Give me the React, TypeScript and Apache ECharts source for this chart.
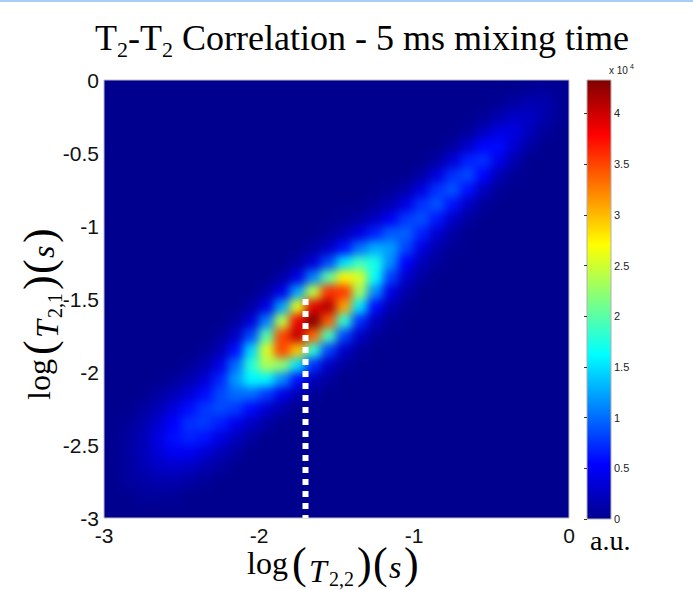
import React, { useEffect, useRef } from 'react';
import * as echarts from 'echarts';

// ---------------- data ----------------
// bin centres (log10 of T, seconds), 0.1 wide
const xBins = [-2.95, -2.85, -2.75, -2.65, -2.55, -2.45, -2.35, -2.25, -2.15, -2.05, -1.95, -1.85, -1.75, -1.65, -1.55, -1.45, -1.35, -1.25, -1.15, -1.05, -0.95, -0.85, -0.75, -0.65, -0.55, -0.45, -0.35, -0.25, -0.15, -0.05];
const yBins = [-2.95, -2.85, -2.75, -2.65, -2.55, -2.45, -2.35, -2.25, -2.15, -2.05, -1.95, -1.85, -1.75, -1.65, -1.55, -1.45, -1.35, -1.25, -1.15, -1.05, -0.95, -0.85, -0.75, -0.65, -0.55, -0.45, -0.35, -0.25, -0.15, -0.05];

// intensity (x 10^4 a.u.) read row by row, bottom row first; rowStart = first x-bin index of each row
const rowStart = [0, 2, 1, 1, 1, 1, 1, 2, 3, 4, 5, 6, 7, 8, 9, 10, 11, 12, 13, 14, 15, 17, 18, 20, 21, 22, 23, 24, 25, 27];
const rowValues: number[][] = [
  [],
  [0.06, 0.06, 0.05],
  [0.07, 0.11, 0.14, 0.14, 0.10, 0.05],
  [0.08, 0.17, 0.26, 0.29, 0.25, 0.16, 0.08],
  [0.08, 0.20, 0.36, 0.48, 0.48, 0.35, 0.20, 0.09],
  [0.07, 0.19, 0.39, 0.59, 0.68, 0.61, 0.41, 0.22, 0.09],
  [0.05, 0.14, 0.32, 0.54, 0.74, 0.78, 0.66, 0.45, 0.25, 0.11],
  [0.08, 0.19, 0.38, 0.59, 0.77, 0.85, 0.78, 0.57, 0.32, 0.14],
  [0.09, 0.19, 0.35, 0.58, 0.84, 1.00, 1.00, 0.78, 0.44, 0.18, 0.06],
  [0.07, 0.16, 0.34, 0.69, 1.19, 1.60, 1.58, 1.13, 0.59, 0.22, 0.07],
  [0.05, 0.15, 0.42, 0.99, 1.78, 2.36, 2.23, 1.50, 0.73, 0.26, 0.07],
  [0.04, 0.18, 0.59, 1.45, 2.56, 3.50, 2.95, 1.80, 0.81, 0.27, 0.07],
  [0.06, 0.26, 0.84, 1.98, 3.50, 4.05, 3.35, 1.92, 0.81, 0.26, 0.06],
  [0.08, 0.35, 1.08, 2.42, 3.83, 4.33, 3.40, 1.81, 0.72, 0.22, 0.05],
  [0.10, 0.42, 1.23, 2.60, 3.90, 4.10, 3.10, 1.52, 0.58, 0.17, 0.04],
  [0.12, 0.44, 1.24, 2.45, 3.60, 3.55, 2.30, 1.14, 0.42, 0.12],
  [0.11, 0.42, 1.09, 2.03, 2.75, 2.55, 1.64, 0.80, 0.29, 0.09],
  [0.10, 0.35, 0.85, 1.50, 1.89, 1.72, 1.13, 0.54, 0.20, 0.06],
  [0.08, 0.26, 0.60, 1.02, 1.28, 1.21, 0.82, 0.39, 0.14, 0.04],
  [0.06, 0.18, 0.39, 0.68, 0.93, 0.95, 0.67, 0.32, 0.10],
  [0.04, 0.11, 0.26, 0.49, 0.78, 0.88, 0.63, 0.28, 0.08],
  [0.07, 0.18, 0.41, 0.75, 0.89, 0.61, 0.26, 0.07],
  [0.05, 0.14, 0.39, 0.75, 0.89, 0.60, 0.23, 0.05],
  [0.12, 0.37, 0.74, 0.85, 0.54, 0.19, 0.04],
  [0.11, 0.34, 0.67, 0.74, 0.44, 0.15],
  [0.09, 0.29, 0.56, 0.58, 0.32, 0.10],
  [0.07, 0.23, 0.40, 0.40, 0.21, 0.06],
  [0.05, 0.16, 0.27, 0.26, 0.13, 0.04],
  [0.03, 0.10, 0.17, 0.15, 0.04],
  [0.04, 0.05, 0.02],
];

const colorMin = 0;
const colorMax = 4.33;
const jetColors = ['#00008f', '#0000ff', '#0080ff', '#00ffff', '#80ff80', '#ffff00', '#ff8000', '#ff0000', '#800000'];
const axisMin = -3;
const axisMax = 0;
const xTickStep = 1;
const yTickStep = 0.5;
const colorbarTicks = [0, 0.5, 1, 1.5, 2, 2.5, 3, 3.5, 4];
const markerX = [-1.7, -1.7];
const markerY = [-1.5, -3];

// ---------------- layout ----------------
const W = 693;
const H = 590;
const PLOT = { left: 104, top: 80, width: 465, height: 438 };
const CBAR = { left: 587, top: 80, width: 24, height: 439 };
const PAD = 24;
const SERIF = '"Liberation Serif", "Times New Roman", Times, serif';
const SANS = '"Liberation Sans", Arial, Helvetica, sans-serif';

let measureCtx: CanvasRenderingContext2D | null = null;
function measure(text: string, size: number, italic = false) {
  if (!measureCtx) measureCtx = document.createElement('canvas').getContext('2d');
  if (!measureCtx) return text.length * size * 0.5;
  measureCtx.font = `${italic ? 'italic ' : ''}${size}px ${SERIF}`;
  return measureCtx.measureText(text).width;
}

function txt(text: string, x: number, baseline: number, size: number, opts: any = {}) {
  const family = opts.family || SERIF;
  const k = family === SERIF ? 0.34 : 0.35;
  return {
    type: 'text',
    x,
    y: baseline - k * size,
    silent: true,
    z: 20,
    style: {
      text,
      fontSize: size,
      fontFamily: family,
      fontStyle: opts.italic ? 'italic' : 'normal',
      fill: opts.fill || '#000',
      align: opts.align || 'left',
      verticalAlign: 'middle',
    },
  };
}

function axisTitle(sub: string) {
  return [
    txt('log', 0, 0, 32),
    txt('(', 45, 4, 44),
    txt('T', 62, 8, 32, { italic: true }),
    txt(sub, 82, 12, 20),
    txt(')', 110, 4, 44),
    txt('(', 126, 4, 44),
    txt('s', 142, 4, 32, { italic: true }),
    txt(')', 157, 4, 44),
  ];
}

function titleGroup() {
  const runs = [
    { t: 'T', s: 36, d: 0 },
    { t: '2', s: 22, d: 7 },
    { t: '-T', s: 36, d: 0 },
    { t: '2', s: 22, d: 7 },
    { t: ' Correlation - 5 ms mixing time', s: 36, d: 0 },
  ];
  const widths = runs.map((r) => measure(r.t, r.s));
  const total = widths.reduce((a, b) => a + b, 0);
  let x = 362 - total / 2;
  const children: any[] = [];
  runs.forEach((r, i) => {
    children.push(txt(r.t, x, 50 + r.d, r.s));
    x += widths[i];
  });
  return children;
}

function HeatLayer() {
  const ref = useRef<HTMLDivElement>(null);
  useEffect(() => {
    if (!ref.current) return;
    const chart = echarts.init(ref.current, null, { renderer: 'svg' });
    const data: number[][] = [];
    for (let j = 0; j < yBins.length; j++) {
      for (let i = 0; i < xBins.length; i++) {
        const k = i - rowStart[j];
        const v = k >= 0 && k < rowValues[j].length ? rowValues[j][k] : 0;
        data.push([i, j, v]);
      }
    }
    chart.setOption({
      animation: false,
      backgroundColor: jetColors[0],
      grid: { left: PAD, top: PAD, width: PLOT.width, height: PLOT.height },
      xAxis: { type: 'category', data: xBins.map(String), show: false },
      yAxis: { type: 'category', data: yBins.map(String), show: false },
      visualMap: {
        show: false,
        type: 'continuous',
        min: colorMin,
        max: colorMax,
        dimension: 2,
        inRange: { color: jetColors },
      },
      series: [
        {
          type: 'heatmap',
          data,
          progressive: 0,
          itemStyle: { borderWidth: 0 },
          emphasis: { disabled: true },
          silent: true,
        },
      ],
    });
    return () => chart.dispose();
  }, []);
  return (
    <div
      style={{
        position: 'absolute',
        left: PLOT.left,
        top: PLOT.top,
        width: PLOT.width,
        height: PLOT.height,
        overflow: 'hidden',
        zIndex: 1,
      }}
    >
      <div
        ref={ref}
        style={{
          position: 'absolute',
          left: -PAD,
          top: -PAD,
          width: PLOT.width + 2 * PAD,
          height: PLOT.height + 2 * PAD,
          filter: 'blur(5px)',
        }}
      />
    </div>
  );
}

function MainLayer() {
  const ref = useRef<HTMLDivElement>(null);
  useEffect(() => {
    if (!ref.current) return;
    const chart = echarts.init(ref.current, null, { renderer: 'svg' });
    const gradient = new echarts.graphic.LinearGradient(
      0,
      1,
      0,
      0,
      jetColors.map((c, i) => ({ offset: i / (jetColors.length - 1), color: c }))
    );
    chart.setOption({
      animation: false,
      backgroundColor: 'transparent',
      grid: [
        {
          left: PLOT.left,
          top: PLOT.top,
          width: PLOT.width,
          height: PLOT.height,
          show: true,
          borderColor: '#bcbcbc',
          borderWidth: 1,
          backgroundColor: 'transparent',
        },
        { left: CBAR.left, top: CBAR.top, width: CBAR.width, height: CBAR.height, show: false },
      ],
      xAxis: [
        {
          gridIndex: 0,
          type: 'value',
          min: axisMin,
          max: axisMax,
          interval: xTickStep,
          axisLine: { show: false },
          axisTick: { show: false },
          splitLine: { show: false },
          axisLabel: { fontSize: 21, fontFamily: SANS, color: '#111', margin: 7 },
        },
        { gridIndex: 1, type: 'value', min: 0, max: 1, show: false },
      ],
      yAxis: [
        {
          gridIndex: 0,
          type: 'value',
          min: axisMin,
          max: axisMax,
          interval: yTickStep,
          axisLine: { show: false },
          axisTick: { show: false },
          splitLine: { show: false },
          axisLabel: { fontSize: 21, fontFamily: SANS, color: '#111', margin: 5 },
        },
        {
          gridIndex: 1,
          type: 'value',
          min: colorMin,
          max: colorMax,
          position: 'right',
          z: 10,
          axisLine: { show: false },
          splitLine: { show: false },
          axisTick: {
            show: true,
            inside: true,
            length: 3,
            lineStyle: { color: '#333' },
            customValues: colorbarTicks,
          },
          axisLabel: {
            customValues: colorbarTicks,
            fontSize: 11,
            fontFamily: SANS,
            color: '#222',
            margin: 3,
          },
        },
      ],
      series: [
        {
          type: 'line',
          xAxisIndex: 0,
          yAxisIndex: 0,
          data: markerX.map((x, i) => [x, markerY[i]]),
          symbol: 'none',
          silent: true,
          z: 5,
          lineStyle: { color: '#ffffff', width: 6, type: [6, 6], cap: 'butt' },
        },
      ],
      graphic: [
        { type: 'rect', silent: true, shape: { x: 0, y: 0, width: W, height: 2 }, style: { fill: '#a6cdf4' } },
        {
          type: 'rect',
          silent: true,
          z: 1,
          shape: { x: CBAR.left, y: CBAR.top, width: CBAR.width, height: CBAR.height },
          style: { fill: gradient, stroke: '#b0b0b0', lineWidth: 1 },
        },
        { type: 'group', children: titleGroup() },
        { type: 'group', x: 247, y: 574, children: axisTitle('2,2') },
        { type: 'group', x: 50, y: 400, rotation: Math.PI / 2, children: axisTitle('2,1') },
        txt('a.u.', 590, 550, 28),
        txt('x 10', 609, 74, 10, { family: SANS, fill: '#222' }),
        txt('4', 630, 69, 7, { family: SANS, fill: '#222' }),
      ],
    });
    return () => chart.dispose();
  }, []);
  return <div ref={ref} style={{ position: 'absolute', left: 0, top: 0, width: W, height: H, zIndex: 2 }} />;
}

export default function App() {
  return (
    <div style={{ position: 'absolute', left: 0, top: 0, width: W, height: H, background: '#ffffff', overflow: 'hidden' }}>
      <HeatLayer />
      <MainLayer />
    </div>
  );
}
